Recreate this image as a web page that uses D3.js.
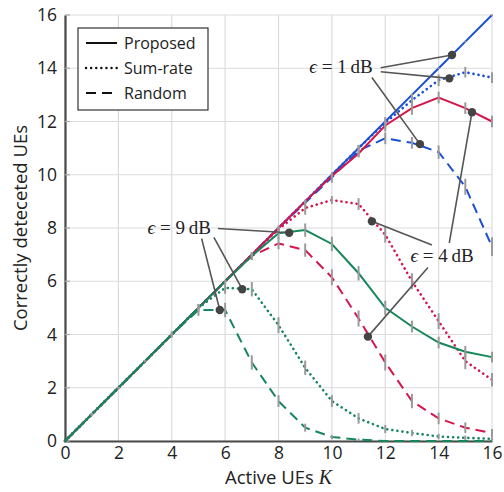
<!DOCTYPE html>
<html>
<head>
<meta charset="utf-8">
<script src="https://cdn.jsdelivr.net/npm/d3@7"></script>
<style>
  body { margin: 0; background: #fff; }
  svg { display: block; }
  text { font-family: "Open Sans", "DejaVu Sans", sans-serif; fill: #222; }
  .math { font-family: "Liberation Serif", "DejaVu Serif", serif; }
</style>
</head>
<body>
<svg id="chart" width="504" height="492"></svg>
<script>
// data
const users = d3.range(0, 17);

const blueProposed = [0,1,2,3,4,5,6,7,8,9,10,11,12,13,14,15,16];
const blueSumRate  = [0,1,2,3,4,5,6,7,8,9,10,11,11.95,12.8,13.55,13.85,13.65];
const blueRandom   = [0,1,2,3,4,5,6,7,8,8.95,9.9,10.9,11.37,11.2,10.85,9.55,7.3];

const redProposed  = [0,1,2,3,4,5,6,7,8,9,9.95,10.8,11.85,12.5,12.9,12.5,12.0];
const redSumRate   = [0,1,2,3,4,5,6,7,7.95,8.75,9.05,8.9,7.75,6.0,4.5,3.0,2.3];
const redRandom    = [0,1,2,3,4,5,6,6.95,7.42,7.17,6.15,4.6,2.95,1.5,0.85,0.5,0.3];

const greenProposed = [0,1,2,3,4,5,6,6.95,7.8,7.92,7.4,6.3,5.0,4.3,3.7,3.35,3.15];
const greenSumRate  = [0,1,2,3,4,5,5.75,5.7,4.35,2.75,1.5,0.85,0.45,0.3,0.17,0.12,0.08];
const greenRandom   = [0,1,2,3,4,4.92,4.92,2.95,1.5,0.5,0.15,0.05,0,0,0,0,0];

// half length of the grey error ticks
const errBlueProposed  = [0,.03,.03,.03,.03,.03,.03,.03,.03,.03,.03,.03,.03,.03,.03,.03,.03];
const errBlueSumRate   = [0,.03,.03,.03,.03,.03,.03,.03,.03,.03,.03,.12,.22,.25,.22,.2,.2];
const errBlueRandom    = [0,.03,.03,.03,.03,.03,.03,.03,.03,.12,.2,.22,.22,.22,.25,.3,.35];
const errRedProposed   = [0,.03,.03,.03,.03,.03,.03,.03,.03,.03,.08,.15,.22,.25,.22,.22,.22];
const errRedSumRate    = [0,.03,.03,.03,.03,.03,.03,.03,.15,.25,.15,.22,.3,.3,.3,.3,.25];
const errRedRandom     = [0,.03,.03,.03,.03,.03,.03,.15,.22,.25,.3,.3,.3,.27,.22,.2,.15];
const errGreenProposed = [0,.03,.03,.03,.03,.03,.03,.15,.22,.25,.27,.27,.27,.22,.22,.22,.2];
const errGreenSumRate  = [0,.03,.03,.03,.03,.15,.22,.27,.3,.27,.22,.2,.15,.12,.1,.08,.06];
const errGreenRandom   = [0,.03,.03,.03,.12,.22,.27,.27,.22,.15,.08,.04,0,0,0,0,0];

const xTicks = [0,2,4,6,8,10,12,14,16];
const yTicks = [0,2,4,6,8,10,12,14,16];

const schemes = ['Proposed', 'Sum-rate', 'Random'];

const colors = { blue: '#1a4fd6', red: '#d4164c', green: '#16875a' };

const series = [
  { color: 'blue',  scheme: 'Proposed', values: blueProposed,  err: errBlueProposed },
  { color: 'blue',  scheme: 'Sum-rate', values: blueSumRate,   err: errBlueSumRate },
  { color: 'blue',  scheme: 'Random',   values: blueRandom,    err: errBlueRandom },
  { color: 'red',   scheme: 'Proposed', values: redProposed,   err: errRedProposed },
  { color: 'red',   scheme: 'Sum-rate', values: redSumRate,    err: errRedSumRate },
  { color: 'red',   scheme: 'Random',   values: redRandom,     err: errRedRandom },
  { color: 'green', scheme: 'Proposed', values: greenProposed, err: errGreenProposed },
  { color: 'green', scheme: 'Sum-rate', values: greenSumRate,  err: errGreenSumRate },
  { color: 'green', scheme: 'Random',   values: greenRandom,   err: errGreenRandom }
];

// annotations: label centre, then [from, to] segments in data units, to = marker
const annotations = [
  { label: '1', at: [10.34, 13.97], links: [
      [[11.83, 14.02], [14.5, 14.5]],
      [[11.83, 13.87], [14.4, 13.62]],
      [[11.5, 13.65], [13.3, 11.15]] ] },
  { label: '4', at: [14.13, 6.87], links: [
      [[13.75, 7.36], [11.5, 8.25]],
      [[13.6, 6.52], [11.35, 3.92]],
      [[14.4, 7.44], [15.25, 12.35]] ] },
  { label: '9', at: [4.28, 7.92], links: [
      [[5.73, 7.98], [8.4, 7.82]],
      [[5.12, 7.6], [5.8, 4.92]],
      [[5.58, 7.65], [6.64, 5.7]] ] }
];

const dashes = { 'Proposed': null, 'Sum-rate': '0.1,5', 'Random': '10,6' };

const width = 504, height = 492;
const margin = { top: 15, right: 12, bottom: 51, left: 65 };

const svg = d3.select('#chart');

const x = d3.scaleLinear().domain([0, 16]).range([margin.left, width - margin.right]);
const y = d3.scaleLinear().domain([0, 16]).range([height - margin.bottom, margin.top]);

// grid
const grid = svg.append('g').attr('class', 'grid');
grid.selectAll('line.v').data(xTicks).join('line')
    .attr('x1', d => x(d)).attr('x2', d => x(d))
    .attr('y1', y(0)).attr('y2', y(16))
    .attr('stroke', '#dcdcdc').attr('stroke-width', 1.2);
grid.selectAll('line.h').data(yTicks).join('line')
    .attr('y1', d => y(d)).attr('y2', d => y(d))
    .attr('x1', x(0)).attr('x2', x(16))
    .attr('stroke', '#dcdcdc').attr('stroke-width', 1.2);

// axes
const xAxis = svg.append('g')
    .attr('transform', `translate(0,${y(0)})`)
    .call(d3.axisBottom(x).tickValues(xTicks).tickSize(0).tickPadding(6));
const yAxis = svg.append('g')
    .attr('transform', `translate(${x(0)},0)`)
    .call(d3.axisLeft(y).tickValues(yTicks).tickSize(0).tickPadding(8));
[xAxis, yAxis].forEach(a => {
  a.select('.domain').attr('stroke', '#4a4a4a').attr('stroke-width', 2.2);
  a.selectAll('text').style('font-size', '17.5px').attr('fill', '#222');
});

// small inner ticks on the axes
svg.append('g').selectAll('line').data(yTicks).join('line')
    .attr('x1', x(0)).attr('x2', x(0) + 5)
    .attr('y1', d => y(d)).attr('y2', d => y(d))
    .attr('stroke', '#aaa').attr('stroke-width', 1.2);

// curves
const line = d3.line()
    .x((d, i) => x(users[i]))
    .y(d => y(d));

const plot = svg.append('g').attr('class', 'curves');
plot.selectAll('path').data(series).join('path')
    .attr('d', d => line(d.values))
    .attr('fill', 'none')
    .attr('stroke', d => colors[d.color])
    .attr('stroke-linecap', d => d.scheme === 'Sum-rate' ? 'round' : 'butt')
    .attr('stroke-width', d => d.scheme === 'Sum-rate' ? 2.6 : 2)
    .attr('stroke-dasharray', d => dashes[d.scheme]);

// error ticks
const errs = svg.append('g').attr('class', 'errors');
series.forEach(s => {
  errs.selectAll(null).data(s.values.map((v, i) => ({ k: users[i], v, e: s.err[i] })).filter(d => d.e > 0))
    .join('line')
      .attr('x1', d => x(d.k)).attr('x2', d => x(d.k))
      .attr('y1', d => y(d.v - d.e)).attr('y2', d => y(d.v + d.e))
      .attr('stroke', '#9a9a9a').attr('stroke-width', 2);
});

// annotations
const notes = svg.append('g').attr('class', 'annotations');
annotations.forEach(a => {
  a.links.forEach(([from, to]) => {
    notes.append('line')
        .attr('x1', x(from[0])).attr('y1', y(from[1]))
        .attr('x2', x(to[0])).attr('y2', y(to[1]))
        .attr('stroke', '#555').attr('stroke-width', 1.6);
    notes.append('circle')
        .attr('cx', x(to[0])).attr('cy', y(to[1])).attr('r', 4.2)
        .attr('fill', '#444');
  });
  const t = notes.append('text')
      .attr('class', 'math')
      .attr('x', x(a.at[0])).attr('y', y(a.at[1]))
      .attr('text-anchor', 'middle')
      .attr('dominant-baseline', 'middle')
      .style('font-size', '19px');
  t.append('tspan').style('font-style', 'italic').text('ϵ');
  t.append('tspan').text(` = ${a.label}\u2009dB`);
});

// legend
const legend = svg.append('g').attr('transform', 'translate(78,28)');
legend.append('rect')
    .attr('width', 130).attr('height', 82)
    .attr('fill', '#fff').attr('stroke', '#333').attr('stroke-width', 1.2);
schemes.forEach((s, i) => {
  const yy = 15 + i * 25;
  legend.append('line')
      .attr('x1', 8).attr('x2', 39).attr('y1', yy).attr('y2', yy)
      .attr('stroke', '#111')
      .attr('stroke-width', s === 'Sum-rate' ? 2.4 : 2)
      .attr('stroke-linecap', s === 'Sum-rate' ? 'round' : 'butt')
      .attr('stroke-dasharray', dashes[s]);
  legend.append('text')
      .attr('x', 46).attr('y', yy)
      .attr('dominant-baseline', 'central')
      .style('font-size', '16px')
      .text(s);
});

// axis titles
const xt = svg.append('text')
    .attr('x', (x(0) + x(16)) / 2).attr('y', 484)
    .attr('text-anchor', 'middle')
    .style('font-size', '18.5px');
xt.append('tspan').text('Active UEs ');
xt.append('tspan').attr('class', 'math').style('font-style', 'italic').style('font-size', '20px').text('K');

svg.append('text')
    .attr('transform', `translate(27,${(y(0) + y(16)) / 2}) rotate(-90)`)
    .attr('text-anchor', 'middle')
    .style('font-size', '18.5px')
    .text('Correctly deteceted UEs');
</script>
</body>
</html>
